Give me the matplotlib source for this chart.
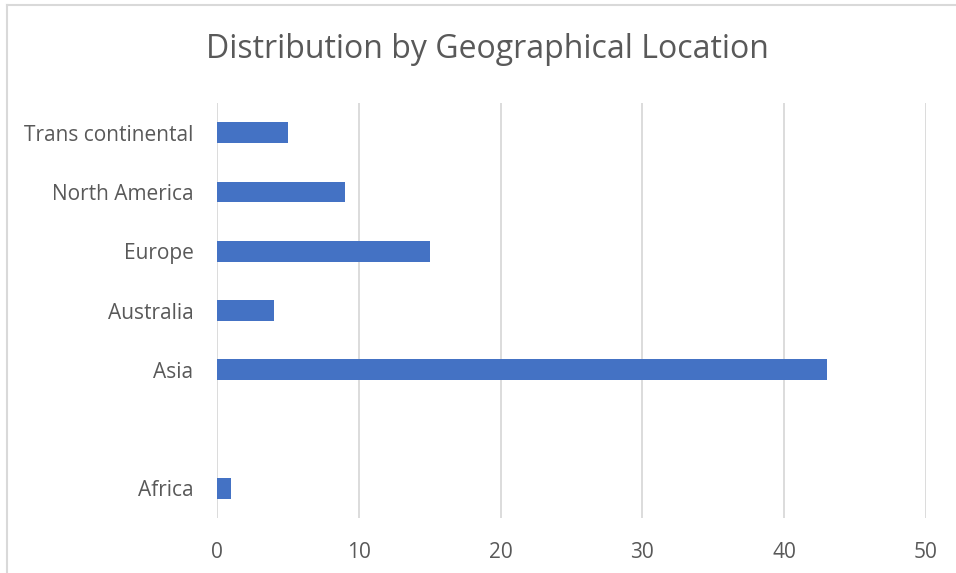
import matplotlib.pyplot as plt
from matplotlib.lines import Line2D

categories = ['Africa', '', 'Asia', 'Australia', 'Europe', 'North America', 'Trans continental']
counts = [1, 0, 43, 4, 15, 9, 5]
xticks = [0, 10, 20, 30, 40, 50]

plt.rcParams['font.family'] = ['Open Sans', 'DejaVu Sans']
text_color = '#595959'

fig = plt.figure(figsize=(9.56, 5.73), dpi=100)
ax = fig.add_axes([217 / 956, 1 - 518 / 573, (926 - 217) / 956, (518 - 103) / 573])

ypos = list(range(len(categories)))
ax.barh(ypos, counts, height=0.35, color='#4472C4', zorder=3)

ax.set_xlim(0, 50)
ax.set_ylim(-0.5, len(categories) - 0.5)
ax.set_yticks(ypos)
ax.set_yticklabels(categories, fontsize=15, color=text_color)
ax.set_xticks(xticks)
ax.set_xticklabels([str(t) for t in xticks], fontsize=15, color=text_color)
ax.tick_params(axis='both', length=0)
ax.tick_params(axis='y', pad=17)
ax.tick_params(axis='x', pad=17)
ax.grid(axis='x', color='#d9d9d9', linewidth=1.3, zorder=0)
for s in ax.spines.values():
    s.set_visible(False)

fig.text(487 / 956, 1 - 49 / 573, 'Distribution by Geographical Location',
         ha='center', va='center', fontsize=23, color=text_color)

# chart area border (cropped)
fig.add_artist(Line2D([7 / 956, 1], [1 - 5 / 573, 1 - 5 / 573], color='#d9d9d9', linewidth=1.5))
fig.add_artist(Line2D([7 / 956, 7 / 956], [0, 1 - 5 / 573], color='#d9d9d9', linewidth=1.5))

fig.savefig('out.png', dpi=100)
